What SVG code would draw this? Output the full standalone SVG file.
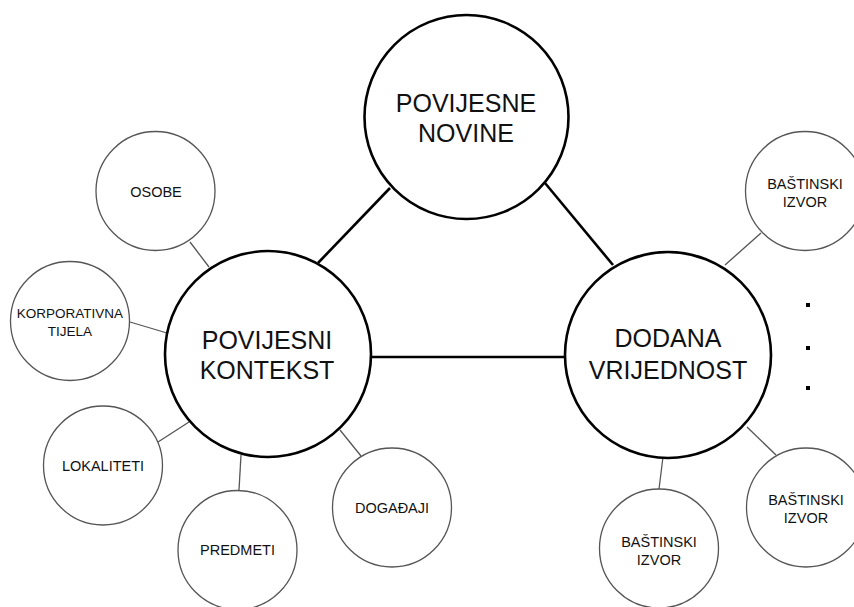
<svg xmlns="http://www.w3.org/2000/svg" width="854" height="607" viewBox="0 0 854 607">
<style>
.big{fill:#fff;stroke:#000;stroke-width:2.6}
.small{fill:#fff;stroke:#555;stroke-width:1.3}
.thick{stroke:#000;stroke-width:2.6;fill:none}
.thin{stroke:#555;stroke-width:1.3;fill:none}
text{font-family:"Liberation Sans",Arial,sans-serif;fill:#111;text-anchor:middle}
.bt{font-size:25px}
.st{font-size:14.5px}
</style>
<rect width="854" height="607" fill="#fff"/>
<g id="connectors">
<line class="thick" x1="390" y1="188" x2="318" y2="263"/>
<line class="thick" x1="545" y1="183" x2="613" y2="265"/>
<line class="thick" x1="371" y1="357" x2="565" y2="357"/>
<line class="thin" x1="190" y1="242" x2="209" y2="267"/>
<line class="thin" x1="130" y1="322" x2="167" y2="333"/>
<line class="thin" x1="158" y1="442" x2="189" y2="422"/>
<line class="thin" x1="239" y1="490" x2="241" y2="455"/>
<line class="thin" x1="340" y1="430" x2="361" y2="456"/>
<line class="thin" x1="659" y1="489" x2="663" y2="457"/>
<line class="thin" x1="747" y1="427" x2="776" y2="455"/>
<line class="thin" x1="761" y1="233" x2="725" y2="265"/>
</g>
<g id="povijesne-novine">
<circle class="big" cx="466.5" cy="117" r="102"/>
<text class="bt" x="466" y="112">POVIJESNE</text>
<text class="bt" x="466" y="142">NOVINE</text>
</g>
<g id="povijesni-kontekst">
<circle class="big" cx="268" cy="354" r="103"/>
<text class="bt" x="267" y="349">POVIJESNI</text>
<text class="bt" x="267" y="379">KONTEKST</text>
</g>
<g id="dodana-vrijednost">
<circle class="big" cx="668" cy="355" r="103"/>
<text class="bt" x="668" y="347">DODANA</text>
<text class="bt" x="668" y="379">VRIJEDNOST</text>
</g>
<g id="osobe">
<circle class="small" cx="155.5" cy="191" r="59.5"/>
<text class="st" x="156" y="197">OSOBE</text>
</g>
<g id="korporativna-tijela">
<circle class="small" cx="70" cy="321" r="59.5"/>
<text x="70" y="318" style="font-size:13.5px">KORPORATIVNA</text>
<text x="70" y="336" style="font-size:13.5px">TIJELA</text>
</g>
<g id="lokaliteti">
<circle class="small" cx="103" cy="465.5" r="59.5"/>
<text class="st" x="103" y="471">LOKALITETI</text>
</g>
<g id="predmeti">
<circle class="small" cx="237.5" cy="550" r="59.5"/>
<text class="st" x="237.5" y="555">PREDMETI</text>
</g>
<g id="dogadaji">
<circle class="small" cx="392" cy="507.5" r="59.5"/>
<text class="st" x="392" y="513">DOGAĐAJI</text>
</g>
<g id="bastinski-izvor-1">
<circle class="small" cx="805" cy="191" r="59.5"/>
<text class="st" x="805" y="189">BAŠTINSKI</text>
<text class="st" x="805" y="207">IZVOR</text>
</g>
<g id="bastinski-izvor-2">
<circle class="small" cx="806" cy="507.5" r="59.5"/>
<text class="st" x="806" y="505">BAŠTINSKI</text>
<text class="st" x="806" y="523">IZVOR</text>
</g>
<g id="bastinski-izvor-3">
<circle class="small" cx="659" cy="548.5" r="59.5"/>
<text class="st" x="659" y="547">BAŠTINSKI</text>
<text class="st" x="659" y="565">IZVOR</text>
</g>
<g id="dots" fill="#000">
<rect x="806" y="303" width="4" height="4"/>
<rect x="806" y="346" width="4" height="4"/>
<rect x="806" y="386" width="4" height="4"/>
</g>
</svg>
